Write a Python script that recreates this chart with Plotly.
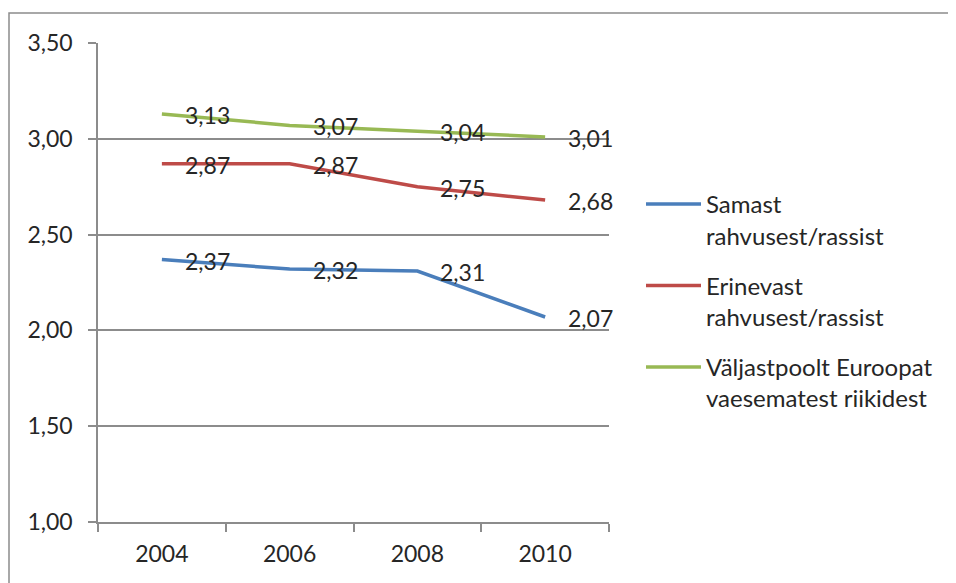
import plotly.graph_objects as go

years = ["2004", "2006", "2008", "2010"]
samast = [2.37, 2.32, 2.31, 2.07]
erinevast = [2.87, 2.87, 2.75, 2.68]
valjast = [3.13, 3.07, 3.04, 3.01]
series_names = ["Samast<br>rahvusest/rassist", "Erinevast<br>rahvusest/rassist",
                "Väljastpoolt Euroopat<br>vaesematest riikidest"]
colors = ["#4A7EBB", "#BE4B48", "#98B954"]
y_ticks = [1.0, 1.5, 2.0, 2.5, 3.0, 3.5]
y_ticktext = ["1,00", "1,50", "2,00", "2,50", "3,00", "3,50"]

FONT = "Lato"
FS = 23
TXT = "#262626"
GRID = "#8c8c8c"
fig = go.Figure()
annotations = []
for i, (name, vals, col) in enumerate(zip(series_names, [samast, erinevast, valjast], colors)):
    fig.add_trace(go.Scatter(x=years, y=vals, mode="lines", name=name,
                             line=dict(color=col, width=3.5), legendgroup=str(i)))
    for j, v in enumerate(vals):
        annotations.append(dict(x=j, y=v, xref="x", yref="y", text=f"{v:.2f}".replace(".", ","),
                                showarrow=False, xanchor="left", yanchor="middle",
                                xshift=21, yshift=-1,
                                font=dict(family=FONT, size=FS, color=TXT)))

OFF = 7  # page body margin
W, H = 956, 583
# target screen coordinates of the plot area
L, R, T, B = 97 - OFF, 608 - OFF, 42 - OFF, 521 - OFF
ml, mr, mt, mb = L, W - R, T, H - B
pw, ph = W - ml - mr, H - mt - mb

def px(x):
    return (x - OFF - ml) / pw

def py(y):
    return (H - mb - (y - OFF)) / ph

fig.update_layout(
    width=W, height=H, margin=dict(l=ml, r=mr, t=mt, b=mb),
    paper_bgcolor="white", plot_bgcolor="white",
    font=dict(family=FONT, size=FS, color=TXT),
    xaxis=dict(type="category", range=[-0.5, 3.5], tickson="boundaries", ticks="outside",
               ticklen=8, tickcolor=GRID, tickwidth=1.5, showline=True, linecolor=GRID,
               linewidth=1.5, showgrid=False, ticklabelstandoff=11,
               tickfont=dict(family=FONT, size=FS, color=TXT)),
    yaxis=dict(range=[1.0, 3.5], tickvals=y_ticks, ticktext=y_ticktext, ticks="outside",
               ticklen=8, tickcolor=GRID, tickwidth=1.5, showline=True, linecolor=GRID,
               linewidth=1.5, showgrid=True, gridcolor=GRID, gridwidth=1.5, zeroline=False,
               ticklabelstandoff=11, tickfont=dict(family=FONT, size=FS, color=TXT)),
    legend=dict(x=px(640), y=py(181), xanchor="left", yanchor="top", valign="top",
                itemwidth=55, tracegroupgap=16, font=dict(family=FONT, size=24, color=TXT),
                bgcolor="rgba(0,0,0,0)"),
    annotations=annotations,
    shapes=[dict(type="rect", xref="paper", yref="paper", x0=px(8), y0=py(620), x1=px(990),
                 y1=py(12), line=dict(color=GRID, width=1.5), layer="below")],
)
fig.write_html("out.html")
